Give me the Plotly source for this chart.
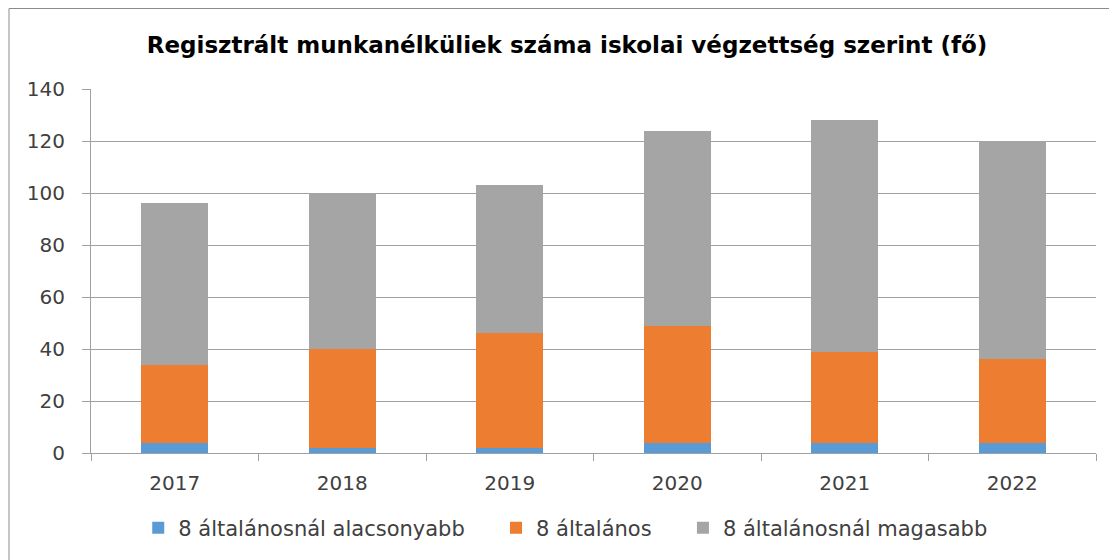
import plotly.graph_objects as go

years = ["2017", "2018", "2019", "2020", "2021", "2022"]
below8 = [4, 2, 2, 4, 4, 4]
eight = [30, 38, 44, 45, 35, 32]
above8 = [62, 60, 57, 75, 89, 84]

series = [
    ("8 általánosnál alacsonyabb", below8, "#5B9BD5", "legend", 0.047),
    ("8 általános", eight, "#ED7D31", "legend2", 0.403),
    ("8 általánosnál magasabb", above8, "#A5A5A5", "legend3", 0.589),
]

FONT = "DejaVu Sans"

fig = go.Figure()
legends = {}
for name, vals, col, lg, lx in series:
    fig.add_trace(go.Bar(x=years, y=vals, name=name, marker_color=col,
                         marker_line_width=0, legend=lg))
    legends[lg] = dict(orientation="h", x=lx, xanchor="left", y=-0.206, yanchor="middle",
                       font=dict(family=FONT, size=21, color="#404040"), itemwidth=30,
                       bgcolor="rgba(0,0,0,0)")

fig.update_layout(
    width=1117, height=560,
    barmode="stack", bargap=0.6,
    paper_bgcolor="white", plot_bgcolor="white",
    margin=dict(l=83, r=29, t=81, b=115),
    font=dict(family=FONT, size=20, color="#404040"),
    title=dict(text="<b>Regisztrált munkanélküliek száma iskolai végzettség szerint (fő)</b>",
               x=(567 - 8) / 1117, xanchor="center", y=1 - 37 / 560, yanchor="middle",
               yref="container",
               font=dict(family=FONT, size=23, color="#000000")),
    showlegend=True,
    **legends,
)
fig.update_yaxes(range=[0, 140], dtick=20, showgrid=True, gridcolor="#A0A0A0", gridwidth=1,
                 showline=True, linecolor="#A0A0A0", ticks="outside", ticklen=8,
                 tickcolor="#A0A0A0", zeroline=False, ticklabelstandoff=13,
                 tickfont=dict(size=20, color="#404040"))
fig.update_xaxes(showline=True, linecolor="#A0A0A0", ticks="outside", ticklen=7,
                 tickcolor="#A0A0A0", tickson="boundaries", showgrid=False,
                 ticklabelstandoff=12,
                 tickfont=dict(size=20, color="#404040"))

# chart border (Excel chart area)
fig.add_shape(type="rect", xref="paper", yref="paper",
              x0=(9 - 91) / 1005, x1=1.05, y0=-0.4, y1=(453 - 8.5) / 364,
              line=dict(color="#8C8C8C", width=1), layer="below")

fig.write_html("out.html")
